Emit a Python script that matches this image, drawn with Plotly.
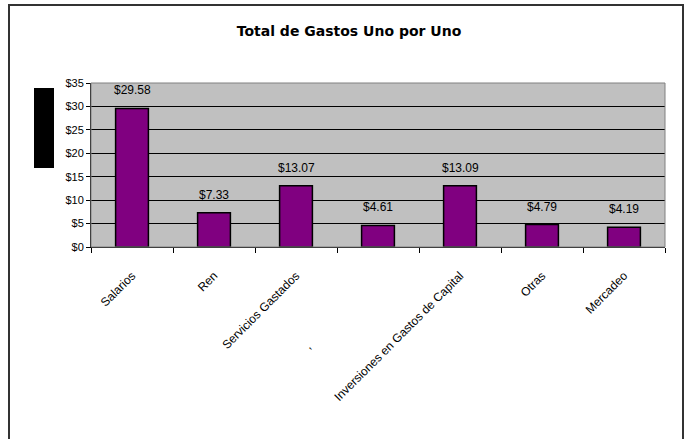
import plotly.graph_objects as go

categories = ["Salarios", "Ren", "Servicios Gastados", ",", "Inversiones en Gastos de Capital", "Otras", "Mercadeo"]
tick_labels = ["Salarios", "Ren", "Servicios Gastados", "," + "\u00a0" * 30,
               "Inversiones en Gastos de Capital", "Otras", "Mercadeo"]
values = [29.58, 7.33, 13.07, 4.61, 13.09, 4.79, 4.19]
y_ticks = [0, 5, 10, 15, 20, 25, 30, 35]
y_tick_labels = ["$0", "$5", "$10", "$15", "$20", "$25", "$30", "$35"]

FONT = "Liberation Sans, Arial, sans-serif"

# reference plot area (page px): x 91..665, y 83..247
L, R, T, B = 91, 665, 83, 247
W, H = 690, 439
PW, PH = R - L, B - T

fig = go.Figure(go.Bar(
    x=categories, y=values,
    marker=dict(color="#800080", line=dict(color="black", width=1.5)),
    hoverinfo="x+y",
))

for c, v in zip(categories, values):
    fig.add_annotation(x=c, y=v, text=f"${v:.2f}", showarrow=False, yshift=18,
                       font=dict(family=FONT, size=12, color="black"))

fig.update_layout(
    width=W, height=H,
    margin=dict(l=L, r=W - R, t=T, b=H - B),
    paper_bgcolor="white", plot_bgcolor="#C0C0C0",
    showlegend=False,
    bargap=0.6,
    title=dict(text="<b>Total de Gastos Uno por Uno</b>", x=349 / W, xanchor="center",
               y=1 - 31 / H, yanchor="middle", yref="container",
               font=dict(family="DejaVu Sans, sans-serif", size=14, color="black")),
    font=dict(family=FONT, color="black"),
)

fig.update_yaxes(range=[0, 35], tickvals=y_ticks, ticktext=y_tick_labels,
                 showgrid=True, gridcolor="black", gridwidth=1,
                 showline=True, linecolor="black", linewidth=1,
                 ticks="outside", ticklen=4, tickcolor="black",
                 tickfont=dict(family=FONT, size=11, color="black"), zeroline=False)
fig.update_xaxes(tickangle=-45, tickson="boundaries", ticks="outside", ticklen=5,
                 tickcolor="black", showline=True, linecolor="black", linewidth=1,
                 tickvals=categories, ticktext=tick_labels, ticklabelstandoff=16,
                 tickfont=dict(family=FONT, size=12, color="black"))

def px_x(x):
    return (x - L) / PW

def px_y(y):
    return (B - y) / PH

# plot-area border
fig.add_shape(type="rect", xref="paper", yref="paper", x0=0, x1=1, y0=0, y1=1,
              line=dict(color="#808080", width=1))
# outer chart frame
fig.add_shape(type="rect", xref="paper", yref="paper",
              x0=px_x(9), x1=px_x(683), y0=px_y(470), y1=px_y(5),
              line=dict(color="#333333", width=2), layer="below")
# black legend block
fig.add_shape(type="rect", xref="paper", yref="paper",
              x0=px_x(34), x1=px_x(54), y0=px_y(168), y1=px_y(88),
              fillcolor="black", line=dict(width=0))

fig.write_html("out.html", config={"displayModeBar": False},
               post_script="document.body.style.margin='0';document.body.style.overflow='hidden';")
